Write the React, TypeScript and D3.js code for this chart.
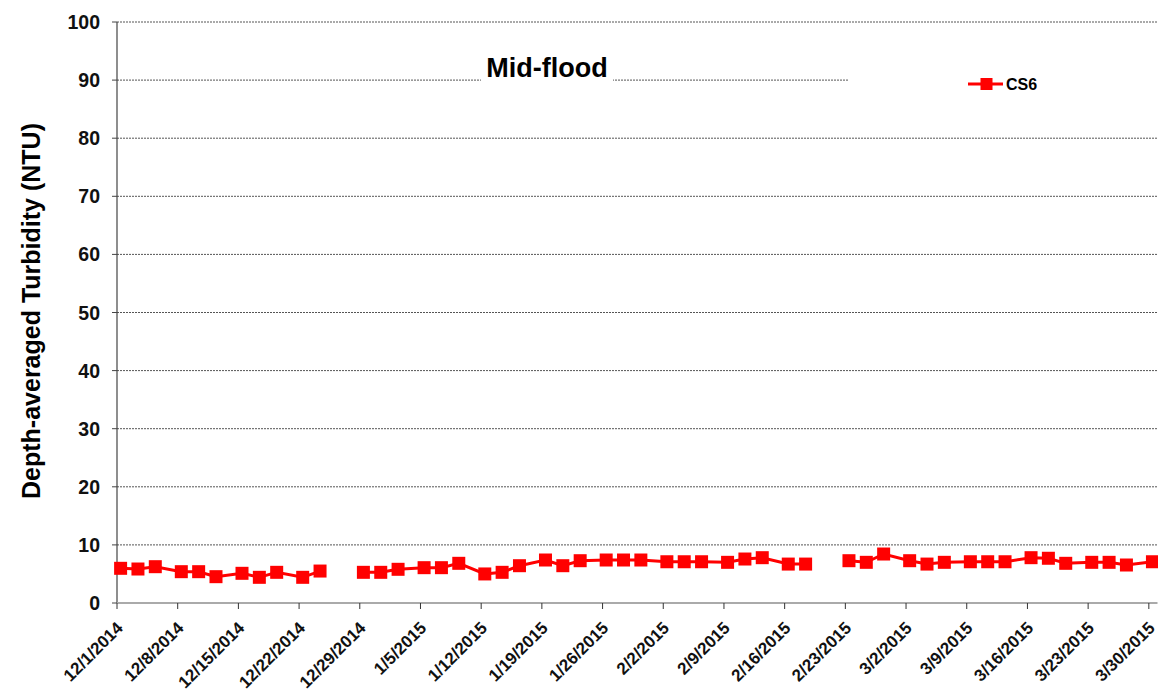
import React from 'react';
import * as d3 from 'd3';

const sampleDates: string[] = [
  '2014-12-01', '2014-12-03', '2014-12-05', '2014-12-08', '2014-12-10', '2014-12-12',
  '2014-12-15', '2014-12-17', '2014-12-19', '2014-12-22', '2014-12-24', '2014-12-26',
  '2014-12-29', '2014-12-31', '2015-01-02', '2015-01-05', '2015-01-07', '2015-01-09',
  '2015-01-12', '2015-01-14', '2015-01-16', '2015-01-19', '2015-01-21', '2015-01-23',
  '2015-01-26', '2015-01-28', '2015-01-30', '2015-02-02', '2015-02-04', '2015-02-06',
  '2015-02-09', '2015-02-11', '2015-02-13', '2015-02-16', '2015-02-18', '2015-02-20',
  '2015-02-23', '2015-02-25', '2015-02-27', '2015-03-02', '2015-03-04', '2015-03-06',
  '2015-03-09', '2015-03-11', '2015-03-13', '2015-03-16', '2015-03-18', '2015-03-20',
  '2015-03-23', '2015-03-25', '2015-03-27', '2015-03-30',
];

const cs6Values: (number | null)[] = [
  5.97, 5.85, 6.25, 5.39, 5.39, 4.53,
  5.11, 4.42, 5.28, 4.42, 5.5, null,
  5.28, 5.28, 5.8, 6.08, 6.08, 6.83,
  5.0, 5.28, 6.42, 7.4, 6.42, 7.28,
  7.4, 7.4, 7.4, 7.1, 7.1, 7.1,
  7.0, 7.57, 7.8, 6.7, 6.7, null,
  7.28, 7.0, 8.43, 7.28, 6.7, 7.0,
  7.1, 7.1, 7.1, 7.8, 7.7, 6.83,
  7.0, 7.0, 6.54, 7.1,
];

const xTickLabels: string[] = [
  '12/1/2014', '12/8/2014', '12/15/2014', '12/22/2014', '12/29/2014', '1/5/2015',
  '1/12/2015', '1/19/2015', '1/26/2015', '2/2/2015', '2/9/2015', '2/16/2015',
  '2/23/2015', '3/2/2015', '3/9/2015', '3/16/2015', '3/23/2015', '3/30/2015',
];

const yTicks: number[] = [0, 10, 20, 30, 40, 50, 60, 70, 80, 90, 100];

const seriesName = 'CS6';
const chartTitle = 'Mid-flood';
const yAxisTitle = 'Depth-averaged Turbidity (NTU)';

const FONT = '"Liberation Sans", Arial, Helvetica, sans-serif';

function parseMDY(s: string): Date {
  const [m, d, y] = s.split('/').map(Number);
  return new Date(y, m - 1, d);
}

function parseISO(s: string, hour = 0): Date {
  const [y, m, d] = s.split('-').map(Number);
  return new Date(y, m - 1, d, hour);
}

export default function App() {
  const W = 1158;
  const H = 693;
  const left = 117;
  const right = 1157.5;
  const top = 22;
  const bottom = 603;

  const x = d3
    .scaleTime()
    .domain([new Date(2014, 11, 1), new Date(2015, 2, 31)])
    .range([left, right]);
  const y = d3.scaleLinear().domain([0, 100]).range([bottom, top]);

  const pts = sampleDates.map((s, i) => ({ date: parseISO(s, 10), v: cs6Values[i] }));

  const line = d3
    .line<{ date: Date; v: number | null }>()
    .defined((d) => d.v != null)
    .x((d) => x(d.date))
    .y((d) => y(d.v as number));

  const red = '#ff0000';
  const ms = 13;

  return (
    <svg
      width={W}
      height={H}
      style={{ position: 'absolute', left: 0, top: 0, background: '#fff' }}
      fontFamily={FONT}
    >
      <rect x={0} y={0} width={W} height={H} fill="#fff" />
      {/* gridlines */}
      {yTicks
        .filter((t) => t > 0)
        .map((t) => (
          <line
            key={'g' + t}
            x1={left}
            x2={right}
            y1={y(t)}
            y2={y(t)}
            stroke="#555"
            strokeWidth={1}
            strokeDasharray="2,1"
          />
        ))}
      {/* title box */}
      <rect x={481} y={54} width={132} height={30} fill="#fff" />
      <text
        x={547}
        y={77}
        textAnchor="middle"
        fontSize={27}
        fontWeight="bold"
        fill="#000"
      >
        {chartTitle}
      </text>
      {/* legend box */}
      <rect x={848} y={62} width={310} height={44} fill="#fff" />
      <line x1={968} x2={1003} y1={84} y2={84} stroke={red} strokeWidth={3} />
      <rect x={986.5 - 6} y={84 - 6} width={12} height={12} fill={red} />
      <text x={1006} y={90} fontSize={16} fontWeight="bold" fill="#000">
        {seriesName}
      </text>
      {/* y axis */}
      <line x1={left} x2={left} y1={top} y2={bottom} stroke="#444" strokeWidth={1.2} />
      {yTicks.map((t) => (
        <g key={'y' + t}>
          <line x1={left - 5} x2={left} y1={y(t)} y2={y(t)} stroke="#444" strokeWidth={1} />
          <text
            x={100}
            y={y(t)}
            dy="0.36em"
            textAnchor="end"
            fontSize={19.5}
            fontWeight="bold"
            fill="#111"
          >
            {t}
          </text>
        </g>
      ))}
      {/* x axis */}
      <line x1={left} x2={right} y1={bottom} y2={bottom} stroke="#aaa" strokeWidth={2} />
      {xTickLabels.map((lab) => {
        const xx = x(parseMDY(lab));
        return (
          <g key={lab}>
            <line x1={xx} x2={xx} y1={bottom} y2={bottom + 6} stroke="#333" strokeWidth={1} />
            <text
              transform={`translate(${xx + 7},${bottom + 26}) rotate(-45)`}
              textAnchor="end"
              fontSize={17}
              fontWeight="bold"
              fill="#111"
            >
              {lab}
            </text>
          </g>
        );
      })}
      {/* y axis title */}
      <text
        transform={`translate(40,311) rotate(-90)`}
        textAnchor="middle"
        fontSize={25}
        fontWeight="bold"
        fill="#000"
      >
        {yAxisTitle}
      </text>
      {/* series */}
      <path d={line(pts) || ''} fill="none" stroke={red} strokeWidth={3} />
      {pts
        .filter((p) => p.v != null)
        .map((p, i) => (
          <rect
            key={'m' + i}
            x={x(p.date) - ms / 2}
            y={y(p.v as number) - ms / 2}
            width={ms}
            height={ms}
            fill={red}
          />
        ))}
    </svg>
  );
}
